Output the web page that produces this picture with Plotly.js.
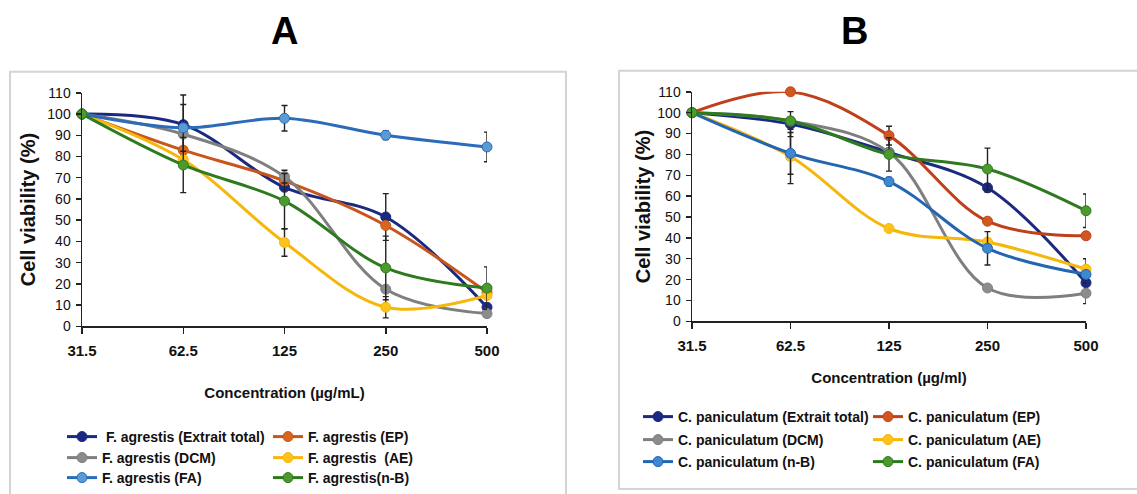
<!DOCTYPE html>
<html>
<head>
<meta charset="utf-8">
<script src="https://cdn.plot.ly/plotly-3.0.1.min.js"></script>
<style>
  html, body { margin: 0; padding: 0; background: #ffffff; }
  #chart { width: 1137px; height: 494px; }
</style>
</head>
<body>
<div id="chart"></div>
<script>
// ---------- DATA ----------
const concentrations = ["31.5", "62.5", "125", "250", "500"];
const yTicks = [0, 10, 20, 30, 40, 50, 60, 70, 80, 90, 100, 110];

// Panel A : F. agrestis
const namesA = [
  "\u00a0F. agrestis (Extrait total)",
  "F. agrestis (EP)",
  "F. agrestis (DCM)",
  "F. agrestis \u00a0(AE)",
  "F. agrestis (FA)",
  "F. agrestis(n-B)"
];
const A_extraitTotal = [100, 95, 65.5, 51.5, 9];
const A_EP           = [100, 83, 68.5, 47.5, 16];
const A_DCM          = [100, 90.5, 70.5, 17.5, 6];
const A_AE           = [100, 78.5, 39.5, 9, 14.5];
const A_FA           = [100, 93.5, 98, 90, 84.5];
const A_nB           = [100, 76, 59, 27.5, 18];
const A_err_extraitTotal = [0, 14, 0, 11, 0];
const A_err_EP           = [0, 0, 0, 0, 0];
const A_err_DCM          = [0, 0, 3, 0, 0];
const A_err_AE           = [0, 0, 6.5, 5, 0];
const A_err_FA           = [0, 11, 6, 2, 7];
const A_err_nB           = [0, 13, 13, 15, 10];

// Panel B : C. paniculatum
const namesB = [
  "C. paniculatum (Extrait total)",
  "C. paniculatum (EP)",
  "C. paniculatum (DCM)",
  "C. paniculatum (AE)",
  "C. paniculatum (n-B)",
  "C. paniculatum (FA)"
];
const B_extraitTotal = [100, 94.5, 81, 64, 18.5];
const B_EP           = [100, 110, 89, 48, 41];
const B_DCM          = [100, 96, 81, 16, 13.5];
const B_AE           = [100, 79, 44.5, 38, 25];
const B_nB           = [100, 80.5, 67, 35, 22.5];
const B_FA           = [100, 96, 80, 73, 53];
const B_err_extraitTotal = [0, 6, 0, 2, 0];
const B_err_EP           = [0, 0, 4.5, 0, 0];
const B_err_DCM          = [0, 0, 0, 0, 5];
const B_err_AE           = [0, 13, 0, 0, 5];
const B_err_nB           = [0, 10, 2, 8, 0];
const B_err_FA           = [0, 0, 8, 10, 8];

// ---------- STYLE ----------
const W = 1137, H = 494;
const px = v => v / W;
const py = v => 1 - v / H;

const FONT = "'Liberation Sans', Arial, sans-serif";

const colA = {
  navy:  ["#1B2A80", "#1B2A80"],
  ep:    ["#C8561A", "#D8661E"],
  dcm:   ["#7F7F7F", "#8C8C8C"],
  ae:    ["#F5B70A", "#FFC21A"],
  fa:    ["#2A6CB8", "#5B9BD5"],
  nb:    ["#2E7A1E", "#4C9A2E"]
};
const colB = {
  navy:  ["#1B2A80", "#1B2A80"],
  ep:    ["#C0401C", "#D0581E"],
  dcm:   ["#7F7F7F", "#8C8C8C"],
  ae:    ["#F5B70A", "#FFC21A"],
  nb:    ["#2365B0", "#3D88D0"],
  fa:    ["#2E7A1E", "#4C9A2E"]
};

function mk(name, y, err, c, xa, ya, legend) {
  return {
    type: "scatter",
    mode: "lines+markers",
    name: name,
    x: concentrations,
    y: y,
    xaxis: xa, yaxis: ya,
    legend: legend,
    line: { color: c[0], width: 3, shape: "spline", smoothing: 1 },
    marker: { color: c[1], size: 10, symbol: "circle", line: { color: c[0], width: 1 } },
    error_y: { type: "data", array: err, visible: true, color: "#222222", thickness: 1.4, width: 3 },
    cliponaxis: false
  };
}

const data = [
  mk(namesA[0], A_extraitTotal, A_err_extraitTotal, colA.navy, "x", "y", "legend"),
  mk(namesA[1], A_EP, A_err_EP, colA.ep, "x", "y", "legend"),
  mk(namesA[2], A_DCM, A_err_DCM, colA.dcm, "x", "y", "legend2"),
  mk(namesA[3], A_AE, A_err_AE, colA.ae, "x", "y", "legend2"),
  mk(namesA[4], A_FA, A_err_FA, colA.fa, "x", "y", "legend3"),
  mk(namesA[5], A_nB, A_err_nB, colA.nb, "x", "y", "legend3"),
  mk(namesB[0], B_extraitTotal, B_err_extraitTotal, colB.navy, "x2", "y2", "legend4"),
  mk(namesB[1], B_EP, B_err_EP, colB.ep, "x2", "y2", "legend4"),
  mk(namesB[2], B_DCM, B_err_DCM, colB.dcm, "x2", "y2", "legend5"),
  mk(namesB[3], B_AE, B_err_AE, colB.ae, "x2", "y2", "legend5"),
  mk(namesB[4], B_nB, B_err_nB, colB.nb, "x2", "y2", "legend6"),
  mk(namesB[5], B_FA, B_err_FA, colB.fa, "x2", "y2", "legend6")
];

function xAxis(domain, title, standoff) {
  return {
    type: "category",
    domain: domain,
    range: [0, 4],
    showgrid: false, zeroline: false,
    showline: true, linecolor: "#222222", linewidth: 1.5,
    ticks: "outside", ticklen: 6, tickwidth: 1.5, tickcolor: "#222222",
    tickfont: { family: FONT, size: 15, color: "#111111", weight: "bold" },
    ticklabelstandoff: 4,
    automargin: false,
    title: { text: title, font: { family: FONT, size: 15, color: "#111111", weight: "bold" }, standoff: standoff },
    fixedrange: true
  };
}
function yAxis(domain, anchor, standoff) {
  return {
    domain: domain,
    anchor: anchor,
    range: [0, 110],
    tickvals: yTicks,
    showgrid: false, zeroline: false,
    showline: true, linecolor: "#222222", linewidth: 1.5,
    ticks: "outside", ticklen: 5, tickwidth: 1.5, tickcolor: "#222222",
    tickfont: { family: FONT, size: 14, color: "#111111" },
    ticklabelstandoff: 2,
    automargin: false,
    title: { text: "Cell viability (%)", font: { family: FONT, size: 20, color: "#111111", weight: "bold" }, standoff: standoff },
    fixedrange: true
  };
}

function leg(x, y, entrywidth, size) {
  return {
    orientation: "h",
    x: x, y: y, xanchor: "left", yanchor: "middle",
    xref: "paper", yref: "paper",
    entrywidth: entrywidth, entrywidthmode: "pixels",
    font: { family: FONT, size: size, color: "#111111", weight: "bold" },
    bgcolor: "rgba(0,0,0,0)",
    borderwidth: 0,
    tracegroupgap: 0,
    itemclick: false, itemdoubleclick: false
  };
}

const layout = {
  width: W, height: H,
  margin: { l: 0, r: 0, t: 0, b: 0, pad: 0 },
  paper_bgcolor: "#ffffff",
  plot_bgcolor: "rgba(0,0,0,0)",
  showlegend: true,
  xaxis:  Object.assign(xAxis([px(82), px(487)], "Concentration (µg/mL)", 29), { anchor: "y" }),
  yaxis:  yAxis([py(327), py(93)], "x", 6),
  xaxis2: Object.assign(xAxis([px(692), px(1086)], "Concentration (µg/ml)", 19), { anchor: "y2" }),
  yaxis2: yAxis([py(322), py(92)], "x2", 1),
  legend:  leg(px(62), py(437), 161, 14),
  legend2: leg(px(62), py(458), 161, 14),
  legend3: leg(px(62), py(479), 161, 14),
  legend4: leg(px(638), py(417), 185, 14),
  legend5: leg(px(638), py(440), 185, 14),
  legend6: leg(px(638), py(462), 185, 14),
  shapes: [
    { type: "rect", xref: "paper", yref: "paper", x0: px(10), x1: px(566), y0: py(500), y1: py(72),
      line: { color: "#D4D4D4", width: 2 }, fillcolor: "rgba(0,0,0,0)", layer: "below" },
    { type: "rect", xref: "paper", yref: "paper", x0: px(619), x1: px(1142), y0: py(490), y1: py(71),
      line: { color: "#D4D4D4", width: 2 }, fillcolor: "rgba(0,0,0,0)", layer: "below" }
  ],
  annotations: [
    { text: "A", xref: "paper", yref: "paper", x: px(284), y: py(31), xanchor: "center", yanchor: "middle",
      showarrow: false, font: { family: FONT, size: 38, color: "#000000", weight: "bold" } },
    { text: "B", xref: "paper", yref: "paper", x: px(855), y: py(31), xanchor: "center", yanchor: "middle",
      showarrow: false, font: { family: FONT, size: 38, color: "#000000", weight: "bold" } }
  ]
};

Plotly.newPlot("chart", data, layout, { displayModeBar: false, staticPlot: true });
</script>
</body>
</html>
